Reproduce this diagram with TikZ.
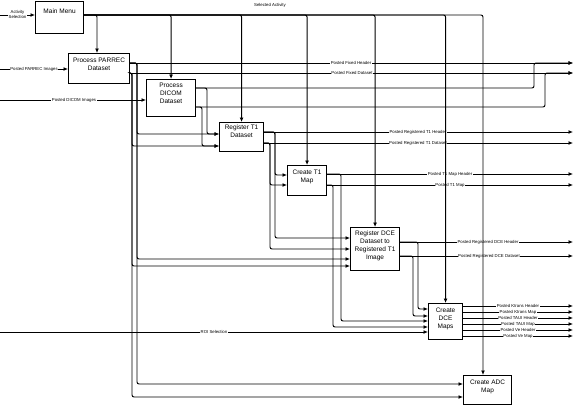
\documentclass[tikz,border=0pt]{standalone}
\usepackage{fontspec}
\setmainfont{Liberation Sans}
\usetikzlibrary{arrows.meta}
\tikzset{
  box/.style={draw, line width=1.1pt, fill=white, inner sep=0pt, anchor=north west},
  btxt/.style={font=\fontsize{6.5}{8}\selectfont, align=center, anchor=north, inner sep=0pt},
  wire/.style={line width=0.95pt, rounded corners=2pt},
  arr/.style={wire, -{Latex[length=4.5pt,width=4pt]}},
  lbl/.style={font=\fontsize{4.3}{5}\selectfont, fill=white, inner sep=0.5pt, align=center},
  plainlbl/.style={font=\fontsize{4.3}{5}\selectfont, inner sep=0pt},
}
\begin{document}
\begin{tikzpicture}[x=1pt,y=-1pt]
\useasboundingbox (0,0) rectangle (574,405);

% boxes
\node[box, minimum width=48pt, minimum height=32pt] (mm) at (35,1) {};
\node[box, minimum width=61pt, minimum height=30pt] (par) at (68,53) {};
\node[box, minimum width=49pt, minimum height=37pt] (dic) at (146,79) {};
\node[box, minimum width=44pt, minimum height=29pt] (rt1) at (219,122) {};
\node[box, minimum width=39pt, minimum height=30pt] (ct1) at (287,165) {};
\node[box, minimum width=49pt, minimum height=43pt] (rdce) at (350,227) {};
\node[box, minimum width=34pt, minimum height=36pt] (cdce) at (428,303) {};
\node[box, minimum width=48pt, minimum height=29pt] (adc) at (463,375) {};

% box texts
\node[btxt] (mmT) at ([yshift=-8pt]mm.north) {Main Menu};
\node[btxt] (parT) at ([yshift=-4.5pt]par.north) {Process PARREC\\Dataset};
\node[btxt] (dicT) at ([yshift=-3.7pt]dic.north) {Process\\DICOM\\Dataset};
\node[btxt] (rt1T) at ([yshift=-3pt]rt1.north) {Register T1\\Dataset};
\node[btxt] (ct1T) at ([yshift=-4.8pt]ct1.north) {Create T1\\Map};
\node[btxt] (rdceT) at ([yshift=-3.8pt]rdce.north) {Register DCE\\Dataset to\\Registered T1\\Image};
\node[btxt] (cdceT) at ([yshift=-4.7pt]cdce.north) {Create\\DCE\\Maps};
\node[btxt] (adcT) at ([yshift=-4.7pt]adc.north) {Create ADC\\Map};

% free ends
\coordinate (inAS) at (0,15);
\coordinate (inPR) at (0,69);
\coordinate (inDI) at (0,100);
\coordinate (inROI) at (0,332);
\coordinate (oFH) at (573,63);
\coordinate (oFD) at (573,73);
\coordinate (oRH) at (573,132);
\coordinate (oRD) at (573,143);
\coordinate (oMH) at (573,174);
\coordinate (oM) at (573,185);
\coordinate (oDH) at (573,242);
\coordinate (oDD) at (573,256);
\coordinate (o1) at (573,306);
\coordinate (o2) at (573,312);
\coordinate (o3) at (573,318);
\coordinate (o4) at (573,324);
\coordinate (o5) at (573,330);
\coordinate (o6) at (573,336);

% inputs
\draw[arr] (inAS) -- (mm.west |- inAS);
\draw[arr] (inPR) -- (par.west |- inPR);
\draw[arr] (inDI) -- (dic.west |- inDI);
\draw[arr] (inROI) -- (cdce.west |- inROI);

% PARREC header / dataset
\draw[arr] (par.east |- 0,63) -- (oFH);
\draw[arr] (par.east |- 0,63) -| (137,134) -- (rt1.west |- 0,134);
\draw[arr] (par.east |- 0,63) -| (137,259) -- (rdce.west |- 0,259);
\draw[arr] (par.east |- 0,63) -| (137,384) -- (adc.west |- 0,384);
\draw[arr] (par.east |- 0,73) -- (oFD);
\draw[arr] (par.east |- 0,73) -| (132,146) -- (rt1.west |- 0,146);
\draw[arr] (par.east |- 0,73) -| (132,266) -- (rdce.west |- 0,266);
\draw[arr] (par.east |- 0,73) -| (132,397) -- (adc.west |- 0,397);

% DICOM header / dataset
\draw[arr] (dic.east |- 0,88) -- (534,88) -- (534,63) -- (oFH);
\draw[arr] (dic.east |- 0,88) -| (207,134) -- (rt1.west |- 0,134);
\draw[arr] (dic.east |- 0,107) -- (545,107) -- (545,73) -- (oFD);
\draw[arr] (dic.east |- 0,107) -| (202,146) -- (rt1.west |- 0,146);

% Register T1 outputs
\draw[arr] (rt1.east |- 0,132) -- (oRH);
\draw[arr] (rt1.east |- 0,132) -| (275,175) -- (ct1.west |- 0,175);
\draw[arr] (rt1.east |- 0,132) -| (275,238) -- (rdce.west |- 0,238);
\draw[arr] (rt1.east |- 0,143) -- (oRD);
\draw[arr] (rt1.east |- 0,143) -| (270,185) -- (ct1.west |- 0,185);
\draw[arr] (rt1.east |- 0,143) -| (270,249) -- (rdce.west |- 0,249);

% Create T1 Map outputs
\draw[arr] (ct1.east |- 0,174) -- (oMH);
\draw[arr] (ct1.east |- 0,174) -| (341,321) -- (cdce.west |- 0,321);
\draw[arr] (ct1.east |- 0,185) -- (oM);
\draw[arr] (ct1.east |- 0,185) -| (333,327) -- (cdce.west |- 0,327);

% Register DCE outputs
\draw[arr] (rdce.east |- 0,242) -- (oDH);
\draw[arr] (rdce.east |- 0,242) -| (418,309) -- (cdce.west |- 0,309);
\draw[arr] (rdce.east |- 0,256) -- (oDD);
\draw[arr] (rdce.east |- 0,256) -| (413,316) -- (cdce.west |- 0,316);

% Create DCE outputs
\foreach \y/\n in {306/1,312/2,318/3,324/4,330/5,336/6}
  \draw[arr] (cdce.east |- 0,\y) -- (o\n);

% labels
\node[lbl] (lAS) at (17.5,14.5) {Activity\\Selection};
\node[lbl] (lPR) at (34,69) {Posted PARREC Images};
\node[lbl] (lDI) at (74,100) {Posted DICOM Images};
\node[lbl] (lROI) at (214,332) {ROI Selection};
\node[lbl] (lFH) at (351,63) {Posted Fixed Header};
\node[lbl] (lFD) at (352,73) {Posted Fixed Dataset};
\node[lbl] (lRH) at (418,132) {Posted Registered T1 Header};
\node[lbl] (lRD) at (418,143) {Posted Registered T1 Dataset};
\node[lbl] (lMH) at (450,174) {Posted T1 Map Header};
\node[lbl] (lM) at (450,185) {Posted T1 Map};
\node[lbl] (lDH) at (488,242) {Posted Registered DCE Header};
\node[lbl] (lDD) at (489,256) {Posted Registered DCE Dataset};
\node[lbl] (l1) at (518,306) {Posted Ktrans Header};
\node[lbl] (l2) at (518,312) {Posted Ktrans Map};
\node[lbl] (l3) at (518,318) {Posted TAUI Header};
\node[lbl] (l4) at (518,324) {Posted TAUI Map};
\node[lbl] (l5) at (518,330) {Posted Ve Header};
\node[lbl] (l6) at (518,336) {Posted Ve Map};
\node[plainlbl] (lSA) at (270,5) {Selected Activity};

% selected activity (control lines, drawn over labels)
\draw[arr] (mm.east |- inAS) -- (483,15) -- (adc.north -| 483,0);
\draw[arr] (mm.east |- inAS) -| (par.north -| 97,0);
\draw[arr] (mm.east |- inAS) -| (dic.north);
\draw[arr] (mm.east |- inAS) -| (rt1.north);
\draw[arr] (mm.east |- inAS) -| (ct1.north);
\draw[arr] (mm.east |- inAS) -| (rdce.north);
\draw[arr] (mm.east |- inAS) -| (cdce.north);
\end{tikzpicture}
\end{document}
